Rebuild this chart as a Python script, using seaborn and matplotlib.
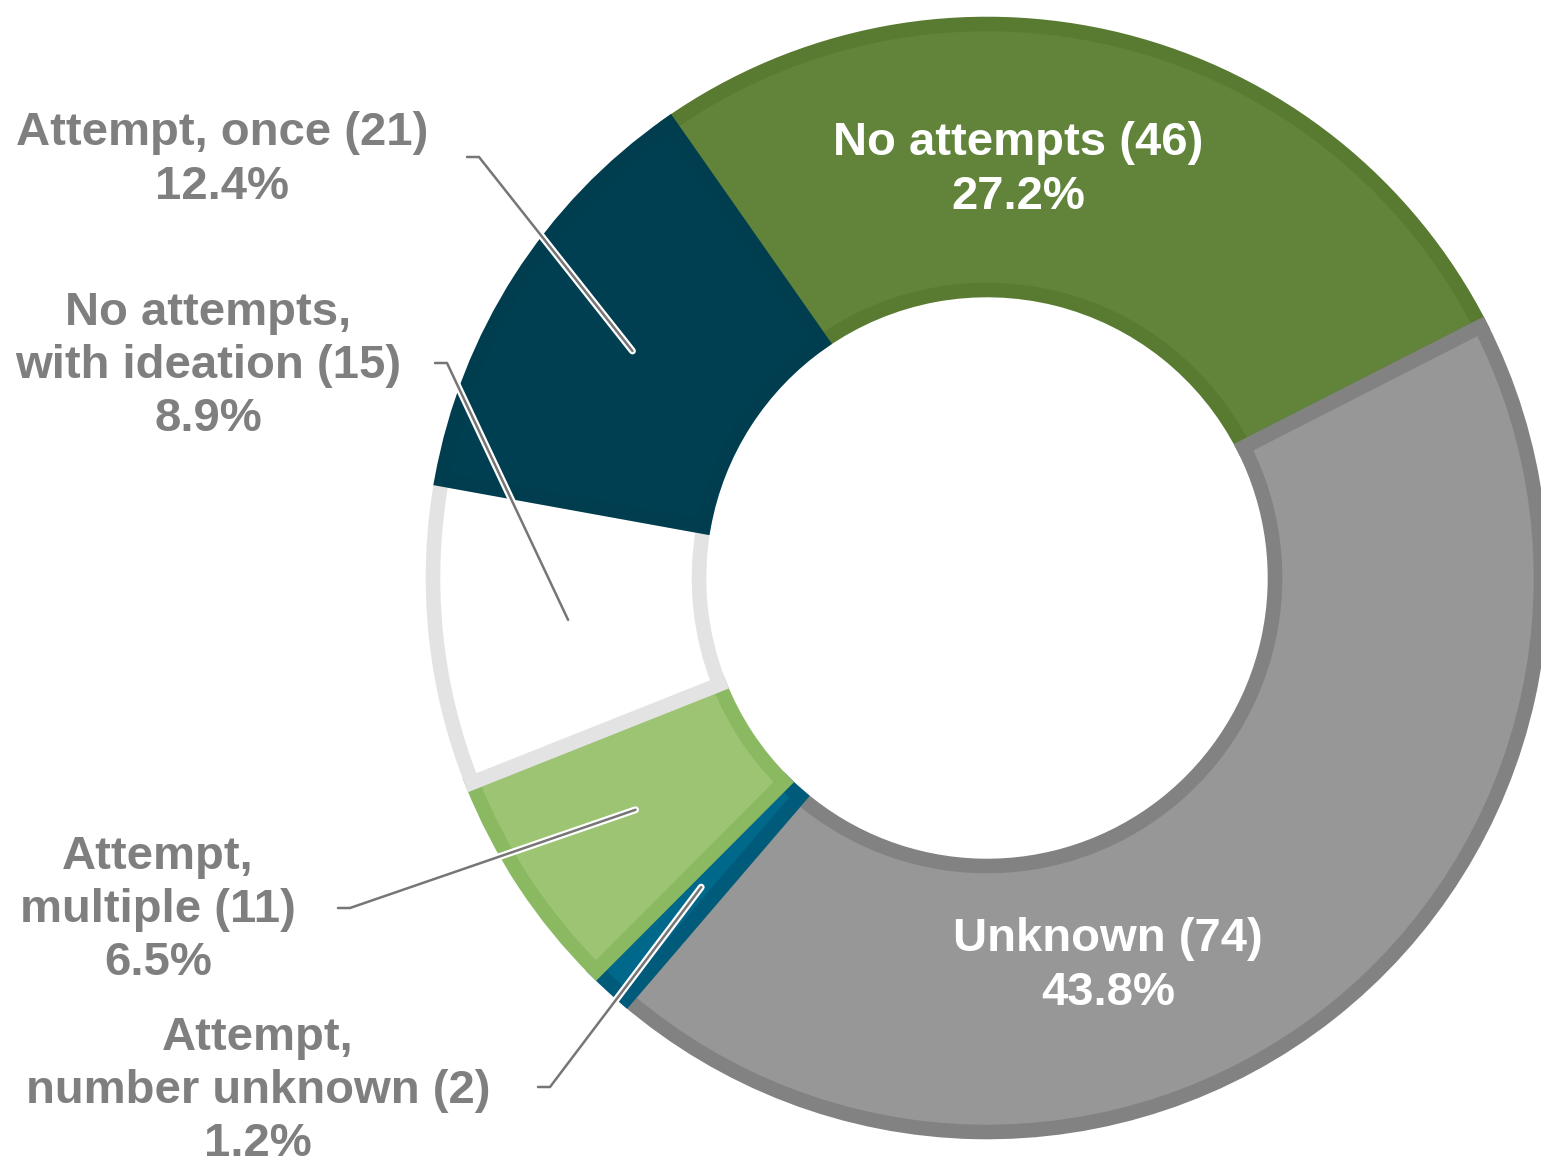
import numpy as np
import matplotlib
matplotlib.use("Agg")
import matplotlib.pyplot as plt
import matplotlib.patheffects as pe
import seaborn as sns

# ---- data ----
categories = ["No attempts", "Unknown", "Attempt, number unknown",
              "Attempt, multiple", "No attempts, with ideation", "Attempt, once"]
display_names = ["No attempts", "Unknown", "Attempt,\nnumber unknown",
                 "Attempt,\nmultiple", "No attempts,\nwith ideation", "Attempt, once"]
counts = [46, 74, 2, 11, 15, 21]
percents = [27.2, 43.8, 1.2, 6.5, 8.9, 12.4]

fill_colors = ["#61843a", "#979797", "#00698b", "#9dc473", "#ffffff", "#003f51"]
edge_colors = ["#597b31", "#828282", "#005b7a", "#8ab962", "#e3e3e3", "#003d4e"]

sns.set_theme(style="white")
plt.rcParams["font.family"] = ["Liberation Sans", "DejaVu Sans"]

W_PX, H_PX = 1541, 1167
fig = plt.figure(figsize=(W_PX / 100, H_PX / 100), dpi=100)
ax = fig.add_axes([0, 0, 1, 1])

cx, cy = 987, H_PX - 578
R = 554
RING = 266

wedges, _ = ax.pie(counts, startangle=125, counterclock=False, radius=R,
                   center=(cx, cy), colors=fill_colors,
                   wedgeprops=dict(width=RING, linewidth=10.5))
for w, ec in zip(wedges, edge_colors):
    w.set_edgecolor(ec)
    w.set_clip_path(w)

ax.set_xlim(0, W_PX)
ax.set_ylim(0, H_PX)
ax.set_aspect("equal")
ax.axis("off")

text_gray = "#7f7f7f"
fs = 34
ls = 1.27

def label_text(i):
    return f"{display_names[i]} ({counts[i]})\n{percents[i]:.1f}%"

# inside labels (white)
inside = {0: (1018, 170), 1: (1108, 966)}
for i, (x, y) in inside.items():
    ax.text(x, H_PX - y, label_text(i), ha="center", va="center", fontsize=fs,
            fontweight="bold", color="white", linespacing=ls)

# outside labels with leader lines
outside = {
    5: dict(text=(222, 160), start=(467, 157)),
    4: dict(text=(208, 366), start=(435, 363)),
    3: dict(text=(158, 910), start=(338, 908)),
    2: dict(text=(258, 1091), start=(538, 1087)),
}
mid_r = R - RING / 2
for i, spec in outside.items():
    tx, ty = spec["text"]
    ax.text(tx, H_PX - ty, label_text(i), ha="center", va="center", fontsize=fs,
            fontweight="bold", color=text_gray, linespacing=ls)
    theta1, theta2 = wedges[i].theta1, wedges[i].theta2
    mid = np.deg2rad((theta1 + theta2) / 2)
    px = cx + mid_r * np.cos(mid)
    py = cy + mid_r * np.sin(mid)
    sx, sy = spec["start"]
    ax.plot([sx, sx + 12, px], [H_PX - sy, H_PX - sy, py], color="#767676",
            linewidth=1.8, solid_capstyle="round",
            path_effects=[pe.Stroke(linewidth=5, foreground="white"), pe.Normal()])

fig.savefig("out.png", dpi=100)
